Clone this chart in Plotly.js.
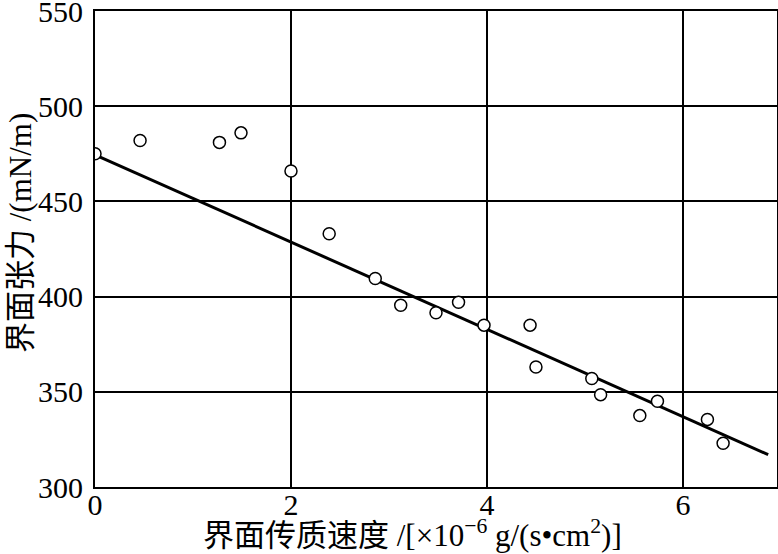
<!DOCTYPE html>
<html>
<head>
<meta charset="utf-8">
<script src="https://cdn.plot.ly/plotly-3.0.1.min.js"></script>
<style>html,body{margin:0;padding:0;background:#fff;}#chart{width:778px;height:554px;}</style>
</head>
<body>
<div id="chart"></div>
<script>
// measured points: interfacial mass transfer rate (x1e-6 g/(s*cm2)) vs interfacial tension (mN/m)
const rateX = [0.0, 0.46, 1.27, 1.49, 2.0, 2.39, 2.86, 3.12, 3.48, 3.71, 3.97, 4.44, 4.50, 5.07, 5.16, 5.56, 5.74, 6.25, 6.41];
const tensionY = [475, 482, 481, 486, 466, 433, 409.5, 395.5, 391.5, 397, 385, 385, 363, 357, 348.5, 337.5, 345, 335.5, 323];
// fitted straight line end points
const fitX = [0, 6.87];
const fitY = [474.5, 317];
const xTickVals = [0, 2, 4, 6];
const yTickVals = [300, 350, 400, 450, 500, 550];
const xTitle = '界面传质速度 /[×10<sup>−6</sup> g/(s•cm<sup>2</sup>)]';
const yTitle = '界面张力 /(mN/m)';

const FONT = 'Liberation Serif, Times New Roman, Noto Sans CJK SC, serif';

const data = [
  {x: fitX, y: fitY, type: 'scatter', mode: 'lines',
   line: {color: '#000', width: 3}, hoverinfo: 'skip', showlegend: false},
  {x: rateX, y: tensionY, type: 'scatter', mode: 'markers',
   marker: {size: 12, color: '#fff', line: {color: '#000', width: 1.5}}, showlegend: false}
];

const layout = {
  width: 778, height: 554,
  margin: {l: 95, r: 1, t: 11, b: 67, pad: 0},
  paper_bgcolor: '#fff', plot_bgcolor: '#fff',
  font: {family: FONT, color: '#000', size: 30},
  xaxis: {
    range: [0, 6.96], tickmode: 'array', tickvals: xTickVals,
    showgrid: true, gridcolor: '#000', gridwidth: 2,
    zeroline: false, showline: true, linecolor: '#000', linewidth: 2, mirror: true,
    ticks: '', ticklen: 0, ticklabelstandoff: -10, ticklabeloverflow: 'allow',
    tickfont: {family: FONT, size: 30, color: '#000'}
  },
  yaxis: {
    range: [300, 550], tickmode: 'array', tickvals: yTickVals,
    showgrid: true, gridcolor: '#000', gridwidth: 2,
    zeroline: false, showline: true, linecolor: '#000', linewidth: 2, mirror: true,
    ticks: '', ticklen: 0, ticklabelstandoff: 4, ticklabeloverflow: 'allow',
    tickfont: {family: FONT, size: 30, color: '#000'}
  },
  annotations: [
    {text: xTitle, xref: 'paper', yref: 'paper', x: (412 - 95) / 682, y: 0,
     yshift: -25, xanchor: 'center', yanchor: 'top', showarrow: false,
     font: {family: FONT, size: 31, color: '#000'}},
    {text: yTitle, xref: 'paper', yref: 'paper', x: 0, y: (487 - 233) / 476,
     xshift: -75, xanchor: 'center', yanchor: 'middle', textangle: -90, showarrow: false,
     font: {family: FONT, size: 31, color: '#000'}}
  ]
};

Plotly.newPlot('chart', data, layout, {displayModeBar: false, staticPlot: true});
</script>
</body>
</html>
